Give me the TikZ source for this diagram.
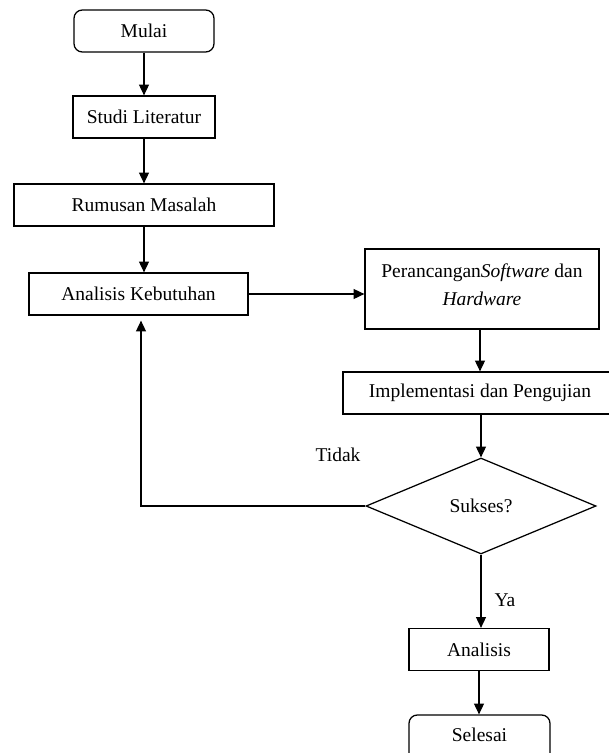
\documentclass[tikz,border=0pt]{standalone}
\usepackage{fontspec}
\setmainfont{Liberation Serif}
\usetikzlibrary{shapes.geometric, arrows.meta}

\begin{document}
\begin{tikzpicture}[x=0.6pt, y=-0.6pt, line width=0.75pt,
    every node/.style={font=\fontsize{11.7pt}{16.8pt}\selectfont, inner sep=2pt},
    box/.style={rectangle, draw, minimum height=25.2pt},
    ends/.style={box, rounded corners=5pt},
    cond/.style={diamond, draw, minimum width=138pt, minimum height=57.6pt, inner sep=0pt},
    arr/.style={-{Triangle[length=6.5pt, width=6pt]}}]
    \useasboundingbox (0,0) rectangle (609,753);

    \node[ends, minimum width=84pt] (mulai) at (144, 31) {Mulai};
    \node[box, minimum width=85.2pt] (studi) at (144, 117) {Studi Literatur};
    \node[box, minimum width=156pt] (rumusan) at (144, 205) {Rumusan Masalah};
    \node[box, minimum width=131.4pt] (kebutuhan) at (138.5, 294) {Analisis Kebutuhan};
    \node[box, minimum width=140.4pt, minimum height=48pt, align=center] (perancangan) at (482, 289)
        {Perancangan\textit{Software} dan\\\textit{Hardware}\\[-11pt]};
    \node[box, minimum width=164.4pt] (implementasi) at (480, 393) {Implementasi dan Pengujian};
    \node[cond] (sukses) at (481, 506) {Sukses?};
    \node[box, minimum width=84pt] (analisis) at (479, 649.5) {Analisis};
    \node[ends, minimum width=84.6pt, minimum height=30pt, align=center] (selesai) at (479.5, 740)
        {Selesai\\[-10.8pt]};

    \node (tidak) at (338, 455) {Tidak};
    \node (ya) at (505, 600) {Ya};

    \draw[arr] (mulai) -- (studi);
    \draw[arr] (studi) -- (rumusan);
    \draw[arr] (rumusan.south) -- (rumusan.south |- kebutuhan.north);
    \draw[arr] (kebutuhan.east) -- (kebutuhan.east -| perancangan.west);
    \draw[arr] (perancangan.south -| implementasi.north) -- (implementasi.north);
    \draw[arr] (implementasi.south -| sukses.north) -- (sukses.north);
    \draw[arr] (sukses.south) -- (sukses.south |- analisis.north);
    \draw[arr] (analisis.south) -- (analisis.south |- selesai.north);
    \draw[arr, shorten >=3pt] (sukses.west) -| ([xshift=1.5pt]kebutuhan.south);
\end{tikzpicture}
\end{document}
